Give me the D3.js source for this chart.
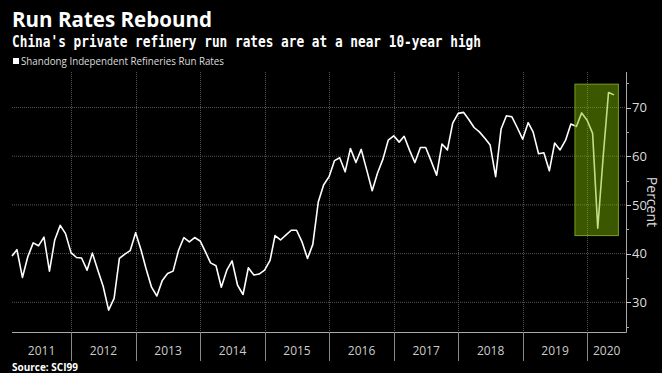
<!DOCTYPE html>
<html><head><meta charset="utf-8">
<script src="https://cdn.jsdelivr.net/npm/d3@7"></script>
<style>html,body{margin:0;padding:0;background:#fff;}svg{display:block;}</style>
</head><body>
<svg id="chart" width="671" height="387"></svg>
<script>
// ---- data ----
const title = "Run Rates Rebound";
const subtitle = "China's private refinery run rates are at a near 10-year high";
const seriesName = "Shandong Independent Refineries Run Rates";
const source = "Source: SCI99";
const startYear = 2011, startMonth = 0; // Jan 2011, monthly to May 2020
const runRates = [
  39.5,40.8,35.1,39.3,42.2,41.6,43.4,36.4,42.8,45.8,44.1,40.2,
  39.2,39.1,36.6,40.1,36.6,33.3,28.4,30.8,39.0,39.9,40.6,44.3,
  40.7,36.9,33.1,31.3,34.5,35.9,36.4,40.7,43.3,42.4,43.3,42.6,
  40.3,38.1,37.5,33.1,36.6,38.5,33.5,31.6,37.1,35.6,35.8,36.6,
  38.6,43.7,42.8,43.8,44.8,44.8,42.4,39.0,41.9,50.6,54.1,55.8,
  59.1,59.7,56.8,61.6,58.7,61.4,57.2,52.9,56.5,59.4,63.3,64.2,
  62.9,64.1,61.2,58.7,61.8,61.8,59.0,56.1,62.5,61.3,66.8,68.8,
  69.0,67.6,65.9,65.0,63.7,62.3,55.8,65.6,68.3,68.1,65.9,63.5,
  66.9,65.0,60.5,60.7,57.0,62.7,61.3,63.3,66.6,66.1,68.9,67.4,
  64.7,45.2,60.0,73.1,72.6
];
const yTicks = [30,40,50,60,70];
const yMinorTicks = [25,35,45,55,65,75];
const yearLabels = ["2011","2012","2013","2014","2015","2016","2017","2018","2019","2020"];
const highlightRange = [new Date(2019,9,23), new Date(2020,5,25)];
const highlightValues = [43.7, 74.8];

// ---- build ----
const data = runRates.map((v,i)=>({date:new Date(startYear, startMonth+i+1, 0), value:v}));

const svg = d3.select("#chart");
const W = 662, H = 373;
svg.append("rect").attr("x",0).attr("y",0).attr("width",W).attr("height",H).attr("fill","#000");

const plot = {left:12, right:626, top:72, bottom:332};
const x = d3.scaleTime().domain([new Date(2011,0,31), new Date(2020,7,7)]).range([plot.left, plot.right]);
const y = d3.scaleLinear().domain([23.9, 77.3]).range([plot.bottom, plot.top]);

// gridlines
const years = yearLabels.map(s=>+s);
const sepYears = years.slice(1).map(yr=>new Date(yr,0,1));
svg.append("g").selectAll("line").data(yTicks).join("line")
  .attr("x1",plot.left).attr("x2",plot.right)
  .attr("y1",d=>y(d)).attr("y2",d=>y(d))
  .attr("stroke","#555").attr("stroke-width",1).attr("stroke-dasharray","1,1");
svg.append("g").selectAll("line").data(sepYears).join("line")
  .attr("x1",d=>Math.round(x(d))+0.5).attr("x2",d=>Math.round(x(d))+0.5)
  .attr("y1",plot.top).attr("y2",plot.bottom)
  .attr("stroke","#555").attr("stroke-width",1).attr("stroke-dasharray","1,1");

// line
const line = d3.line().x(d=>x(d.date)).y(d=>y(d.value));
svg.append("path").datum(data).attr("d",line)
  .attr("fill","none").attr("stroke","#fff").attr("stroke-width",1.6).attr("stroke-linejoin","round");

// highlight box
svg.append("rect")
  .attr("x",x(highlightRange[0])).attr("width",x(highlightRange[1])-x(highlightRange[0]))
  .attr("y",y(highlightValues[1])).attr("height",y(highlightValues[0])-y(highlightValues[1]))
  .attr("fill","rgb(125,185,0)").attr("fill-opacity",0.47)
  .attr("stroke","rgb(120,160,30)").attr("stroke-width",1);

// axes lines
svg.append("line").attr("x1",plot.left).attr("x2",plot.right+0.5)
  .attr("y1",plot.bottom+0.5).attr("y2",plot.bottom+0.5).attr("stroke","#aaa");
svg.append("line").attr("x1",plot.right+0.5).attr("x2",plot.right+0.5)
  .attr("y1",plot.top).attr("y2",plot.bottom+0.5).attr("stroke","#aaa");

// right axis ticks
const yAxis = svg.append("g");
yAxis.selectAll("line.maj").data(yTicks).join("line").attr("class","maj")
  .attr("x1",plot.right).attr("x2",plot.right+5)
  .attr("y1",d=>Math.round(y(d))+0.5).attr("y2",d=>Math.round(y(d))+0.5).attr("stroke","#ccc");
yAxis.selectAll("line.min").data(yMinorTicks).join("line").attr("class","min")
  .attr("x1",plot.right).attr("x2",plot.right+3)
  .attr("y1",d=>Math.round(y(d))+0.5).attr("y2",d=>Math.round(y(d))+0.5).attr("stroke","#aaa");
yAxis.selectAll("text").data(yTicks).join("text")
  .attr("x",plot.right+6).attr("y",d=>y(d)).attr("dy","0.36em")
  .attr("fill","#ddd").attr("font-family","'Open Sans', sans-serif").attr("font-size",13)
  .text(d=>d);
svg.append("text")
  .attr("transform",`translate(${plot.right+21},${y(50)-3}) rotate(90)`)
  .attr("text-anchor","middle").attr("fill","#ddd")
  .attr("font-family","'Open Sans', sans-serif").attr("font-size",14).text("Percent");

// x axis separators and labels
svg.append("g").selectAll("line").data(sepYears).join("line")
  .attr("x1",d=>Math.round(x(d))+0.5).attr("x2",d=>Math.round(x(d))+0.5)
  .attr("y1",plot.bottom).attr("y2",plot.bottom+29).attr("stroke","#888");
const [d0,d1] = x.domain();
svg.append("g").selectAll("text").data(years).join("text")
  .attr("x",yr=>{
    const a = Math.max(+new Date(yr,0,1), +d0), b = Math.min(+new Date(yr+1,0,1), +d1);
    return (x(new Date(a))+x(new Date(b)))/2;
  })
  .attr("y",355).attr("text-anchor","middle").attr("fill","#ccc")
  .attr("font-family","'Open Sans', sans-serif").attr("font-size",12)
  .text((yr,i)=>yearLabels[i]);

// titles
svg.append("text").attr("x",12).attr("y",27).attr("fill","#fff")
  .attr("font-family","'Open Sans', sans-serif").attr("font-weight","bold").attr("font-size",21)
  .attr("textLength",200).attr("lengthAdjust","spacingAndGlyphs").text(title);
svg.append("text").attr("x",12).attr("y",47).attr("fill","#fff")
  .attr("font-family","'DejaVu Sans Mono', monospace").attr("font-weight","bold").attr("font-size",15)
  .attr("textLength",469).attr("lengthAdjust","spacingAndGlyphs").text(subtitle);
svg.append("rect").attr("x",13).attr("y",58).attr("width",6).attr("height",6).attr("fill","#fff");
svg.append("text").attr("x",21).attr("y",65).attr("fill","#ddd")
  .attr("font-family","'Open Sans', sans-serif").attr("font-size",10.5)
  .attr("textLength",203).attr("lengthAdjust","spacingAndGlyphs").text(seriesName);
svg.append("text").attr("x",12).attr("y",371).attr("fill","#fff")
  .attr("font-family","'Open Sans', sans-serif").attr("font-weight","bold").attr("font-size",10)
  .text(source);
</script>
</body></html>
